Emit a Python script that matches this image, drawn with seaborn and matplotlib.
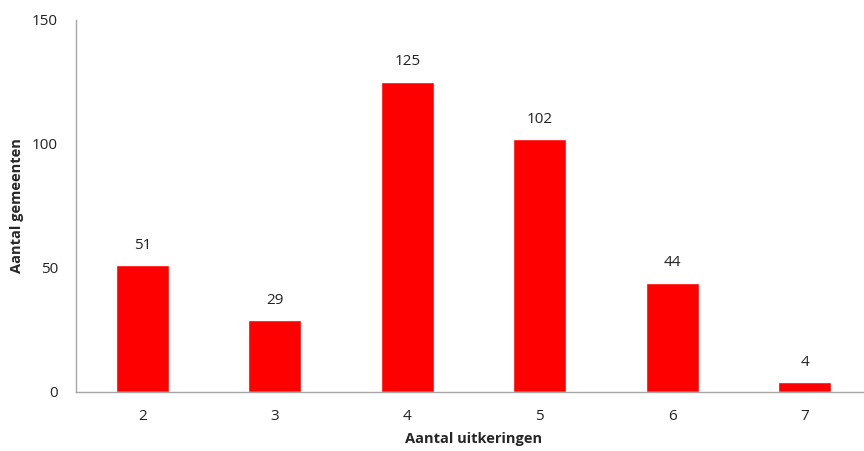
import matplotlib
matplotlib.use("Agg")
import matplotlib.pyplot as plt
import seaborn as sns
import numpy as np
import pandas as pd

# data
uitkeringen = ["2", "3", "4", "5", "6", "7"]
gemeenten = [51, 29, 125, 102, 44, 4]

sns.set_style("white")
plt.rcParams['font.family'] = ['Open Sans', 'DejaVu Sans']

df = pd.DataFrame({"Aantal uitkeringen": uitkeringen, "Aantal gemeenten": gemeenten})

fig = plt.figure(figsize=(8.64, 4.51), dpi=100)
ax = fig.add_axes([0.088, 0.131, 0.920, 0.825])
sns.barplot(data=df, x="Aantal uitkeringen", y="Aantal gemeenten", color="#ff0000",
            saturation=1, width=0.4, ax=ax)

for i, v in enumerate(gemeenten):
    ax.text(i, v + 5, str(v), ha="center", va="bottom", fontsize=11, color="#222222")

ax.set_ylim(0, 150)
ax.set_xlim(-0.5, 5.5)
ax.set_yticks([0, 50, 100, 150])
ax.set_xticks(np.arange(-0.5, 6, 1), minor=True)
ax.tick_params(axis="x", which="major", length=0, pad=12, labelsize=11, colors="#222222")
ax.tick_params(axis="x", which="minor", length=6, width=1, color="#a6a6a6", direction="out")
ax.tick_params(axis="y", length=5, width=1, color="#a6a6a6", direction="out", labelsize=11,
               labelcolor="#222222", pad=8)
ax.tick_params(axis="x", labelcolor="#222222")

for s in ["top", "right"]:
    ax.spines[s].set_visible(False)
for s in ["left", "bottom"]:
    ax.spines[s].set_color("#a6a6a6")
    ax.spines[s].set_linewidth(1)

ax.set_xlabel("Aantal uitkeringen", fontweight="bold", fontsize=10.5, labelpad=6)
ax.set_ylabel("Aantal gemeenten", fontweight="bold", fontsize=10.5, labelpad=6)

fig.savefig("out.png", dpi=100)
